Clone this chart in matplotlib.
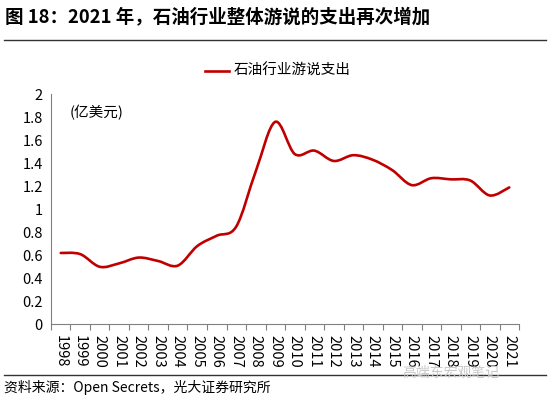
import matplotlib.pyplot as plt
from matplotlib.path import Path
from matplotlib.patches import PathPatch
from matplotlib.lines import Line2D
import numpy as np

plt.rcParams['font.family'] = ['Noto Sans CJK SC', 'DejaVu Sans']

# 石油行业游说支出（亿美元），数据读自原图
years = [str(y) for y in range(1998, 2022)]
spending = [0.62, 0.61, 0.50, 0.53, 0.58, 0.55, 0.51, 0.68, 0.77, 0.85,
            1.33, 1.76, 1.48, 1.51, 1.42, 1.47, 1.43, 1.34, 1.21, 1.27,
            1.26, 1.25, 1.12, 1.19]

title = '图 18：2021 年，石油行业整体游说的支出再次增加'
series_name = '石油行业游说支出'
unit = '(亿美元)'
source = '资料来源：Open Secrets，光大证券研究所'
line_color = '#C00000'


def smooth_path(x, y, t=1 / 6):
    # Excel 风格的平滑线：Catmull-Rom 转三次贝塞尔
    x = np.asarray(x, float)
    y = np.asarray(y, float)
    n = len(x)
    verts = [(x[0], y[0])]
    codes = [Path.MOVETO]
    for i in range(n - 1):
        p0 = i - 1 if i > 0 else i
        p3 = i + 2 if i + 2 < n else i + 1
        c1 = (x[i] + (x[i + 1] - x[p0]) * t, y[i] + (y[i + 1] - y[p0]) * t)
        c2 = (x[i + 1] - (x[p3] - x[i]) * t, y[i + 1] - (y[p3] - y[i]) * t)
        verts += [c1, c2, (x[i + 1], y[i + 1])]
        codes += [Path.CURVE4] * 3
    return Path(verts, codes)


fig = plt.figure(figsize=(5.5, 3.98), dpi=100)
ax = fig.add_axes([0.0927, 0.1852, 0.851, 0.578])

xs = np.arange(len(years))
ax.add_patch(PathPatch(smooth_path(xs, spending), fill=False,
                       edgecolor=line_color, linewidth=1.9, capstyle='round'))

ax.set_xlim(-0.5, len(years) - 0.5)
ax.set_ylim(0, 2)
ax.set_yticks(np.arange(0, 2.01, 0.2))
ax.set_yticklabels(['0', '0.2', '0.4', '0.6', '0.8', '1', '1.2', '1.4',
                    '1.6', '1.8', '2'], fontsize=10.5)
ax.tick_params(axis='y', length=0, pad=6)

ax.set_xticks(xs)
ax.set_xticklabels(years, rotation=-90, fontsize=10.5)
ax.set_xticks(np.arange(-0.5, len(years)), minor=True)
ax.tick_params(axis='x', which='major', length=0, pad=8)
ax.tick_params(axis='x', which='minor', length=4, color='#808080', width=0.8)

for side in ['top', 'right']:
    ax.spines[side].set_visible(False)
for side in ['left', 'bottom']:
    ax.spines[side].set_color('#808080')
    ax.spines[side].set_linewidth(0.8)

ax.text(0.04, 0.92, unit, transform=ax.transAxes, fontsize=10.5,
        va='center', ha='left')

# 图例
fig.add_artist(Line2D([205 / 550, 229 / 550], [1 - 71 / 398] * 2,
                      color=line_color, linewidth=1.9))
fig.text(234 / 550, 1 - 71 / 398, series_name, fontsize=10.5,
         fontweight='medium', va='center', ha='left')

# 标题与分隔线
fig.text(5 / 550, 1 - 17 / 398, title, fontsize=13.3, fontweight='bold',
         va='center', ha='left')
fig.add_artist(Line2D([4 / 550, 546 / 550], [1 - 40 / 398] * 2,
                      color='#333333', linewidth=1.0))
fig.add_artist(Line2D([4 / 550, 546 / 550], [1 - 375 / 398] * 2,
                      color='#333333', linewidth=1.0))
fig.text(4 / 550, 1 - 387 / 398, source, fontsize=10,
         va='center', ha='left')
fig.text(402 / 550, 1 - 373 / 398, '高端东宏观笔记', fontsize=10,
         color='#c8c8c8', va='center', ha='left')

fig.savefig('out.png', dpi=100)
